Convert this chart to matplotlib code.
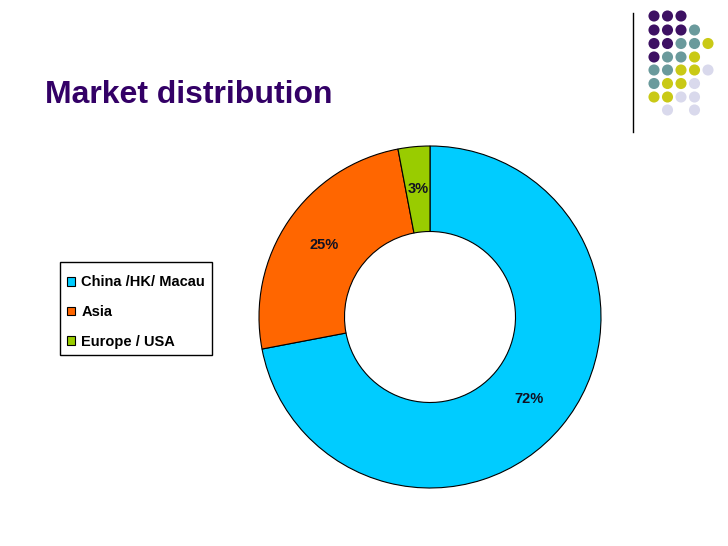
import matplotlib
matplotlib.use("Agg")
import matplotlib.pyplot as plt
from matplotlib.patches import Patch, Rectangle

plt.rcParams['font.family'] = ['Liberation Sans', 'DejaVu Sans']

categories = ["China /HK/ Macau", "Asia", "Europe / USA"]
values = [72, 25, 3]
colors = ["#00ccff", "#ff6600", "#99cc00"]
title = "Market distribution"

# decorative dot grid (row by row, column index -> colour key)
dot_rows = [
    "PPP..",
    "PPPT.",
    "PPTTY",
    "PTTY.",
    "TTYYL",
    "TYYL.",
    "YYLL.",
    ".L.L.",
]
dot_colors = {"P": "#3d1163", "T": "#6a9a9c", "Y": "#c9c916", "L": "#d9d9ec"}

W, H = 728, 546
fig = plt.figure(figsize=(W / 100, H / 100), dpi=100)

# background axes in pixel coordinates
bg = fig.add_axes([0, 0, 1, 1])
bg.set_xlim(0, W)
bg.set_ylim(H, 0)
bg.axis('off')

col_x = [654, 667.5, 681, 694.5, 708]
row_y = [16, 30, 43.5, 57, 70, 83.5, 97, 110]
xs, ys, cs = [], [], []
for r, row in enumerate(dot_rows):
    for c, ch in enumerate(row):
        if ch != '.':
            xs.append(col_x[c]); ys.append(row_y[r]); cs.append(dot_colors[ch])
bg.scatter(xs, ys, s=64, c=cs, linewidths=0)
bg.plot([633, 633], [13, 132], color='black', lw=1)

bg.text(45, 103, title, fontsize=23, fontweight='bold', color='#330066',
        ha='left', va='baseline')

# legend frame
bg.add_patch(Rectangle((60, 262), 152, 93, facecolor='white',
                       edgecolor='black', linewidth=1.0))

# donut
cx, cy, R = 430, 317, 171
ax = fig.add_axes([(cx - R) / W, 1 - (cy + R) / H, 2 * R / W, 2 * R / H])
wedges, texts, autotexts = ax.pie(
    values, colors=colors, startangle=90, counterclock=False,
    radius=1.0, autopct='%d%%', pctdistance=0.75,
    wedgeprops=dict(width=0.5, edgecolor='black', linewidth=0.8),
    textprops=dict(fontsize=10.5, fontweight='bold', color='#111122'))
for w in wedges:
    w.set_clip_on(False)
ax.set_xlim(-1, 1)
ax.set_ylim(-1, 1)
ax.set_aspect('equal')
ax.axis('off')

handles = [Patch(facecolor=c, edgecolor='black', linewidth=0.8) for c in colors]
leg = fig.legend(handles, categories, loc='upper left',
                 bbox_to_anchor=(67 / W, 1 - 275.5 / H),
                 prop=dict(size=10.5, weight='bold'),
                 frameon=False,
                 handlelength=0.55, handleheight=0.55, handletextpad=0.42,
                 labelspacing=1.07, borderpad=0, borderaxespad=0)

fig.savefig("out.png", dpi=100)
